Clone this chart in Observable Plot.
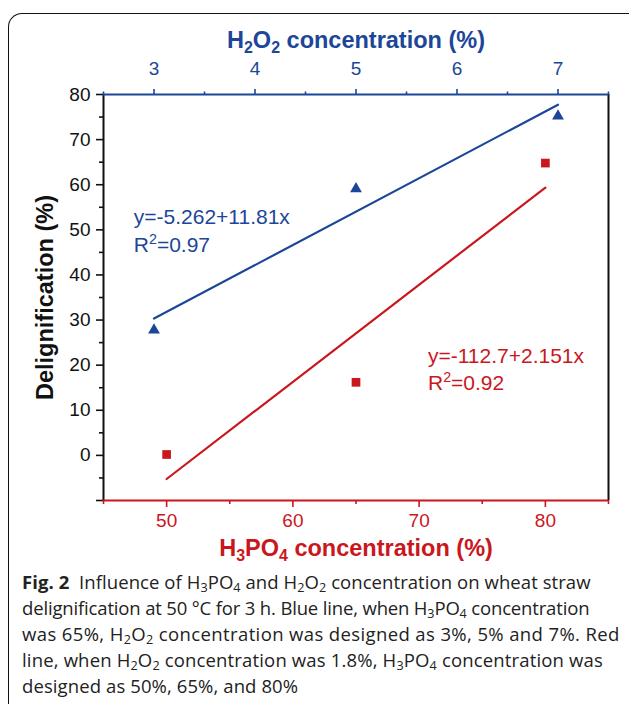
<!DOCTYPE html>
<html><head><meta charset="utf-8">
<script src="https://cdn.jsdelivr.net/npm/d3@7"></script>
<script src="https://cdn.jsdelivr.net/npm/@observablehq/plot@0.6"></script>
<style>
body{margin:0;background:#fff;width:629px;height:704px;overflow:hidden;position:relative;font-family:"Liberation Sans",Arial,sans-serif}
#frame{position:absolute;left:8px;top:13px;width:700px;height:720px;border-top:1.5px solid #111;border-left:1.5px solid #111;border-top-left-radius:14px}
#chart{position:absolute;left:0;top:0;width:629px;height:570px}
#chart svg{position:absolute;left:0;top:0}
#caption{position:absolute;left:22px;top:569px;width:610px;font-family:"Open Sans",sans-serif;font-size:18.5px;line-height:26px;color:#222;letter-spacing:-0.1px;white-space:nowrap}
#caption span{display:block}
#caption sub{font-size:0.68em;vertical-align:-0.22em;line-height:0}
#caption b{font-weight:700}
</style></head>
<body>
<div id="frame"></div>
<div id="chart"></div>
<div id="caption"><span style="letter-spacing:0.07px"><b>Fig. 2</b>&nbsp; Influence of H<sub>3</sub>PO<sub>4</sub> and H<sub>2</sub>O<sub>2</sub> concentration on wheat straw</span><span style="letter-spacing:-0.16px">delignification at 50 °C for 3 h. Blue line, when H<sub>3</sub>PO<sub>4</sub> concentration</span><span style="letter-spacing:0.38px">was 65%, H<sub>2</sub>O<sub>2</sub> concentration was designed as 3%, 5% and 7%. Red</span><span style="letter-spacing:0.16px">line, when H<sub>2</sub>O<sub>2</sub> concentration was 1.8%, H<sub>3</sub>PO<sub>4</sub> concentration was</span><span style="letter-spacing:0.1px">designed as 50%, 65%, and 80%</span></div>
<script>
// ---- data ----
const h3po4 = [50, 65, 80];              // bottom axis, red series
const delignRed = [0.2, 16.2, 64.8];
const h2o2 = [3, 5, 7];                  // top axis, blue series
const delignBlue = [27.8, 59.1, 75.2];
const yMajor = [-10, 0, 10, 20, 30, 40, 50, 60, 70, 80];
const yMinor = [-5, 5, 15, 25, 35, 45, 55, 65, 75];
const xBottomMajor = [50, 60, 70, 80];
const xBottomMinor = [45, 55, 65, 75, 85];
const xTopMajor = [3, 4, 5, 6, 7];
const xTopMinor = [2.5, 3.5, 4.5, 5.5, 6.5, 7.5];
const blueEq = "y=-5.262+11.81x", blueR2 = "R2=0.97";
const redEq = "y=-112.7+2.151x", redR2 = "R2=0.92";
const topTitle = "H2O2 concentration (%)";
const bottomTitle = "H3PO4 concentration (%)";
const yTitle = "Delignification (%)";

const BLUE = "#1c4698", RED = "#c9171d", INK = "#111";
const W = 629, H = 570;
const M = {marginLeft: 103, marginRight: 21, marginTop: 94, marginBottom: 70};
const font = "Liberation Sans, Arial, sans-serif";
const redData = h3po4.map((x, i) => ({x, y: delignRed[i]}));
const blueData = h2o2.map((x, i) => ({x, y: delignBlue[i]}));

const bottomPlot = Plot.plot({
  width: W, height: H, ...M,
  style: {background: "transparent", fontFamily: font, overflow: "visible"},
  x: {domain: [45, 85]}, y: {domain: [-10, 80]},
  marks: [
    Plot.axisY({ticks: yMajor, tickSize: 7, tickPadding: 6, fontSize: 19, fill: INK, stroke: INK, strokeWidth: 1.6, tickFormat: d => d < 0 ? "" : d, label: null}),
    Plot.axisY({ticks: yMinor, tickSize: 4, tickFormat: () => "", stroke: INK, strokeWidth: 1.6, label: null}),
    Plot.axisX({anchor: "bottom", ticks: xBottomMajor, tickSize: 7, tickPadding: 6, fontSize: 19, fill: RED, stroke: RED, strokeWidth: 1.6, tickFormat: d => d, label: null}),
    Plot.axisX({anchor: "bottom", ticks: xBottomMinor, tickSize: 4, tickFormat: () => "", stroke: RED, strokeWidth: 1.6, label: null}),
    Plot.ruleX([45], {stroke: INK, strokeWidth: 2}),
    Plot.ruleX([85], {stroke: INK, strokeWidth: 2}),
    Plot.ruleY([-10], {stroke: RED, strokeWidth: 2}),
    Plot.linearRegressionY(redData, {x: "x", y: "y", stroke: RED, strokeWidth: 2.2, ci: 0}),
    Plot.dot(redData, {x: "x", y: "y", symbol: "square", r: 4.9, fill: RED, stroke: null}),
    Plot.text([redEq, redR2], {x: 70.7, y: (d, i) => i === 0 ? 22 : 16, text: d => d, textAnchor: "start", fill: RED, fontSize: 21}),
    Plot.text([bottomTitle], {frameAnchor: "bottom", lineAnchor: "middle", dy: 48, text: d => d, fill: RED, fontSize: 23.5, fontWeight: "bold"}),
    Plot.text([yTitle], {frameAnchor: "left", textAnchor: "middle", lineAnchor: "middle", dx: -58, rotate: -90, text: d => d, fill: INK, fontSize: 23.5, fontWeight: "bold"})
  ]
});

const topPlot = Plot.plot({
  width: W, height: H, ...M,
  style: {background: "transparent", fontFamily: font, overflow: "visible"},
  x: {domain: [2.5, 7.5]}, y: {domain: [-10, 80], axis: null},
  marks: [
    Plot.axisX({anchor: "top", ticks: xTopMajor, tickSize: 6, tickPadding: 14, fontSize: 19, fill: BLUE, stroke: BLUE, strokeWidth: 1.6, tickFormat: d => d, label: null}),
    Plot.axisX({anchor: "top", ticks: xTopMinor, tickSize: 3.5, tickFormat: () => "", stroke: BLUE, strokeWidth: 1.6, label: null}),
    Plot.ruleY([80], {stroke: BLUE, strokeWidth: 2}),
    Plot.linearRegressionY(blueData, {x: "x", y: "y", stroke: BLUE, strokeWidth: 2.2, ci: 0}),
    Plot.dot(blueData, {x: "x", y: "y", symbol: "triangle", r: 4.4, fill: BLUE, stroke: null}),
    Plot.text([blueEq, blueR2], {x: 2.8, y: (d, i) => i === 0 ? 52.8 : 46.6, text: d => d, textAnchor: "start", fill: BLUE, fontSize: 21}),
    Plot.text([topTitle], {frameAnchor: "top", lineAnchor: "middle", dy: -54, text: d => d, fill: BLUE, fontSize: 23.5, fontWeight: "bold"})
  ]
});

const chart = document.getElementById("chart");
chart.appendChild(bottomPlot);
chart.appendChild(topPlot);

// rich text: subscripts / superscripts
function rich(svg, key, parts, fs) {
  d3.select(svg).selectAll("text").filter(function () { return this.textContent === key; }).each(function () {
    const t = d3.select(this);
    t.text(null);
    let shift = 0;
    for (const [s, mode] of parts) {
      const sp = t.append("tspan").text(s);
      let target = mode === "sub" ? 0.22 * fs : mode === "sup" ? -0.38 * fs : 0;
      if (target !== shift) sp.attr("dy", target - shift);
      shift = target;
      if (mode) sp.attr("font-size", 0.68 * fs);
    }
  });
}
rich(topPlot, topTitle, [["H"], ["2", "sub"], ["O"], ["2", "sub"], [" concentration (%)"]], 23.5);
rich(bottomPlot, bottomTitle, [["H"], ["3", "sub"], ["PO"], ["4", "sub"], [" concentration (%)"]], 23.5);
rich(topPlot, blueR2, [["R"], ["2", "sup"], ["=0.97"]], 21);
rich(bottomPlot, redR2, [["R"], ["2", "sup"], ["=0.92"]], 21);
</script>
</body></html>
